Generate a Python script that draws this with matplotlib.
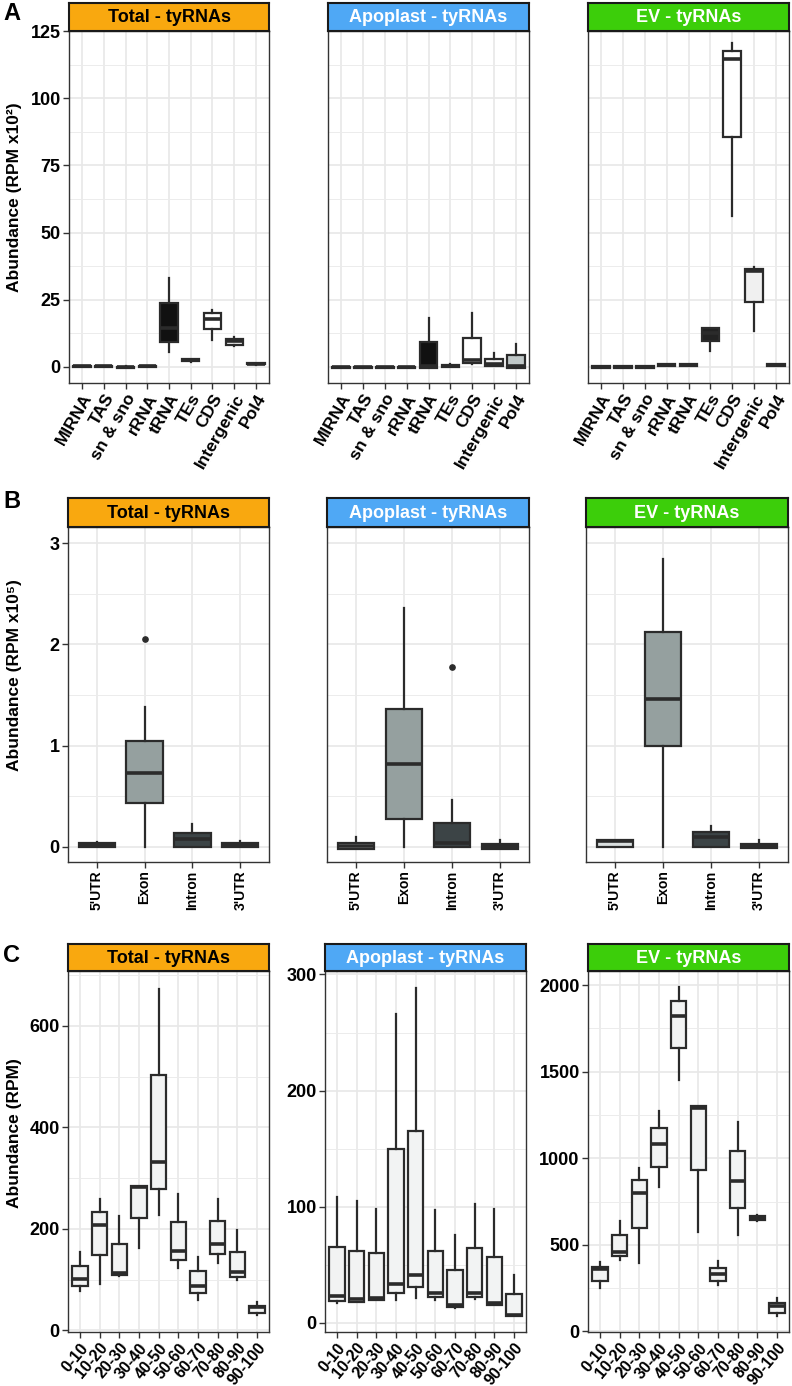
import numpy as np
from matplotlib import pyplot as plt

plt.rcParams['font.family'] = ['Liberation Sans', 'DejaVu Sans']
plt.rcParams['font.weight'] = 'bold'

# ---- data: (whisker low, q1, median, q3, whisker high) ----
cats_a = ['MIRNA', 'TAS', 'sn & sno', 'rRNA', 'tRNA', 'TEs', 'CDS', 'Intergenic', 'Pol4']
fill_a = ['#3a3a3a', '#3a3a3a', '#3a3a3a', '#3a3a3a', '#111111', '#222222', '#ffffff', '#f0f0f0', '#c0c8c8']
total_a = [(0, 0, 0.2, 0.4, 0.5), (0, 0, 0.2, 0.4, 0.5), (-0.3, -0.3, -0.1, 0.1, 0.2),
           (0, 0, 0.2, 0.4, 0.5), (5.7, 9.4, 14.5, 23.6, 33.2), (2.0, 2.1, 2.5, 2.9, 3.0),
           (10.0, 14.0, 17.8, 20.2, 21.2), (7.8, 8.2, 9.5, 10.4, 11.2), (0.8, 0.9, 1.2, 1.5, 1.6)]
apo_a = [(-0.4, -0.4, -0.2, 0.0, 0.0), (-0.4, -0.4, -0.2, 0.0, 0.0), (-0.4, -0.4, -0.2, 0.0, 0.0),
         (-0.4, -0.4, -0.2, 0.0, 0.0), (-0.3, -0.3, 0.5, 9.2, 18.1), (0.0, 0.0, 0.3, 0.8, 1.0),
         (1.0, 1.4, 2.4, 10.9, 20.0), (0.5, 0.5, 1.2, 3.0, 5.1), (-0.3, -0.3, 0.3, 4.3, 8.4)]
ev_a = [(-0.3, -0.3, -0.1, 0.2, 0.2), (-0.3, -0.3, -0.1, 0.2, 0.2), (-0.3, -0.3, -0.1, 0.2, 0.2),
        (0.4, 0.4, 0.7, 1.0, 1.0), (0.4, 0.4, 0.7, 1.0, 1.0), (6.0, 9.5, 12.5, 14.4, 14.5),
        (56.2, 85.4, 114.4, 117.6, 120.4), (13.4, 24.1, 35.5, 36.6, 37.3), (0.3, 0.3, 0.6, 0.9, 0.9)]

cats_b = ["5'UTR", 'Exon', 'Intron', "3'UTR"]
fill_b = ['#d9dede', '#95a09f', '#3c4446', '#2a2a2a']
total_b = [(0, 0, 0.02, 0.04, 0.05), (0, 0.43, 0.727, 1.046, 1.385), (0, 0, 0.08, 0.14, 0.227), (0, 0, 0.02, 0.04, 0.06)]
apo_b = [(-0.02, -0.02, 0.01, 0.036, 0.10), (0, 0.277, 0.82, 1.36, 2.36), (0, 0, 0.04, 0.24, 0.46), (-0.02, -0.02, 0.0, 0.03, 0.07)]
ev_b = [(0, 0, 0.06, 0.07, 0.07), (0, 1.0, 1.46, 2.12, 2.84), (0, 0, 0.10, 0.145, 0.207), (-0.01, -0.01, 0.01, 0.03, 0.07)]
out_b = [[], [2.05], [], []], [[], [], [1.78], []], [[], [], [], []]

cats_c = ['0-10', '10-20', '20-30', '30-40', '40-50', '50-60', '60-70', '70-80', '80-90', '90-100']
total_c = [(77, 87, 101, 127, 154), (91, 148, 207, 233, 258), (108, 109, 113, 170, 226),
           (162, 221, 282, 285, 285), (228, 278, 331, 503, 672), (123, 139, 157, 214, 268),
           (60, 73, 87, 117, 144), (132, 151, 170, 215, 259), (100, 105, 116, 155, 197), (30, 34, 46, 49, 57)]
apo_c = [(17, 19, 23, 65, 108), (18, 18, 20, 62, 105), (19.6, 19.6, 21, 60, 98),
         (19.6, 26, 33.6, 150, 266), (21.6, 31, 41, 165, 288), (19.6, 22, 26, 62, 97),
         (13, 13.5, 15, 45.7, 75.6), (20.7, 22, 26, 64, 102.7), (15, 15, 16.7, 57, 98), (5.8, 5.8, 6.6, 24.4, 41)]
ev_c = [(250, 292, 360, 375, 400), (410, 437, 456, 558, 640), (394, 596, 802, 875, 942),
        (833, 952, 1081, 1177, 1275), (1452, 1635, 1823, 1910, 1987), (577, 933, 1292, 1302, 1304),
        (269, 292, 331, 365, 408), (558, 712, 871, 1044, 1212), (640, 645, 655, 665, 670), (92, 106, 148, 163, 192)]

titles = ['Total - tyRNAs', 'Apoplast - tyRNAs', 'EV - tyRNAs']
strip_colors = ['#f9a80f', '#4fa8f5', '#3cce0a']
strip_text = ['black', 'white', 'white']

W, H = 792, 1386
fig = plt.figure(figsize=(W / 100, H / 100), dpi=100)


def pax(x0, y0, x1, y1):
    return fig.add_axes([x0 / W, 1 - y1 / H, (x1 - x0) / W, (y1 - y0) / H])


def panel(x0, y0, x1, y1, strip_top, idx, cats, stats, fills, ylim, yticks, show_y,
          rot, xfs, outliers=None, width=0.78):
    ax = pax(x0, y0, x1, y1)
    data = []
    for i, s in enumerate(stats):
        data.append(dict(whislo=s[0], q1=s[1], med=s[2], q3=s[3], whishi=s[4],
                         fliers=outliers[i] if outliers else []))
    pos = np.arange(1, len(cats) + 1)
    bp = ax.bxp(data, positions=pos, widths=width, patch_artist=True, showcaps=False,
                boxprops=dict(edgecolor='#2b2b2b', linewidth=1.6),
                whiskerprops=dict(color='#2b2b2b', linewidth=1.6),
                medianprops=dict(color='#2b2b2b', linewidth=2.6, solid_capstyle='butt'),
                flierprops=dict(marker='o', markersize=3.8, markerfacecolor='#2b2b2b',
                                markeredgecolor='#2b2b2b'), zorder=3)
    for patch, f in zip(bp['boxes'], fills):
        patch.set_facecolor(f)
    ax.set_xticks(pos)
    ax.set_yticks(yticks)
    step = yticks[1] - yticks[0]
    mids = [t + step / 2 for t in [yticks[0] - step] + list(yticks)]
    ax.set_yticks(mids, minor=True)
    ax.set_xlim(0.4, len(cats) + 0.6)
    ax.set_ylim(*ylim)
    ax.grid(True, which='major', color='#e8e8e8', linewidth=1.2, zorder=0)
    ax.grid(True, which='minor', axis='y', color='#ececec', linewidth=0.7, zorder=0)
    ax.set_axisbelow(True)
    ax.tick_params(which='minor', length=0)
    ax.tick_params(which='major', length=4, color='#333333', width=1, pad=2)
    for sp in ax.spines.values():
        sp.set_color('#333333')
        sp.set_linewidth(1.0)
    if rot == 90:
        ax.set_xticklabels(cats, rotation=90, fontsize=xfs, fontweight='bold', ha='center', va='top')
    else:
        ax.set_xticklabels(cats, rotation=rot, fontsize=xfs, fontweight='bold',
                           ha='right', va='top', rotation_mode='anchor')
    if show_y:
        ax.set_yticklabels([f'{t:g}' for t in yticks], fontsize=13, fontweight='bold')
    else:
        ax.tick_params(axis='y', which='major', length=0, labelleft=False)
    st = pax(x0, strip_top, x1, y0)
    st.set_facecolor(strip_colors[idx])
    st.set_xticks([])
    st.set_yticks([])
    for sp in st.spines.values():
        sp.set_color('#1a1a1a')
        sp.set_linewidth(1.5)
    st.text(0.5, 0.47, titles[idx], ha='center', va='center', fontsize=13,
            fontweight='bold', color=strip_text[idx], transform=st.transAxes)
    return ax


# row A
xa = [(69, 269), (328, 529), (588, 789)]
for i, st in enumerate([total_a, apo_a, ev_a]):
    panel(xa[i][0], 31, xa[i][1], 383, 3, i, cats_a, st, fill_a, (-6, 125),
          [0, 25, 50, 75, 100, 125], i == 0, 60, 12.5, width=0.8)

# row B
xb = [(68, 269), (327, 529), (586, 788)]
for i, st in enumerate([total_b, apo_b, ev_b]):
    panel(xb[i][0], 527, xb[i][1], 862, 498, i, cats_b, st, fill_b, (-0.15, 3.16),
          [0, 1, 2, 3], i == 0, 90, 10, outliers=out_b[i], width=0.76)

# row C
xc = [(68, 269), (325, 526), (588, 789)]
lims_c = [(-3, 708), (-8, 303), (-3, 2081)]
ticks_c = [[0, 200, 400, 600], [0, 100, 200, 300], [0, 500, 1000, 1500, 2000]]
fill_c = ['#f2f3f3'] * len(cats_c)
for i, st in enumerate([total_c, apo_c, ev_c]):
    panel(xc[i][0], 971, xc[i][1], 1332, 944, i, cats_c, st, fill_c, lims_c[i],
          ticks_c[i], True, 50, 11.5, width=0.78)

fig.text(15 / W, 1 - 197 / H, 'Abundance (RPM x10²)', rotation=90, ha='center', va='center',
         fontsize=12.5, fontweight='bold')
fig.text(15 / W, 1 - 675 / H, 'Abundance (RPM x10⁵)', rotation=90, ha='center', va='center',
         fontsize=12.5, fontweight='bold')
fig.text(15 / W, 1 - 1133 / H, 'Abundance (RPM)', rotation=90, ha='center', va='center',
         fontsize=12.5, fontweight='bold')

for lab, y in [('A', 14), ('B', 501), ('C', 955)]:
    fig.text(3 / W, 1 - y / H, lab, ha='left', va='center', fontsize=17, fontweight='bold')

plt.savefig('out.png', dpi=100)
